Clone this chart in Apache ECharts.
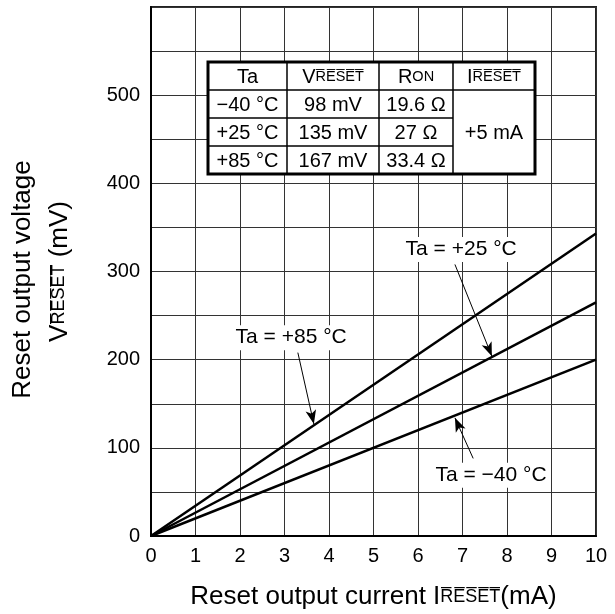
<!DOCTYPE html>
<html><head><meta charset="utf-8">
<script src="https://cdn.jsdelivr.net/npm/echarts@6/dist/echarts.min.js"></script>
<style>html,body{margin:0;padding:0;background:#fff}#c{width:615px;height:614px}</style>
</head><body><div id="c"></div>
<script>
var OL = function (s) { return s.split('').map(function (ch) { return ch + '\u0305'; }).join(''); };
var xTicks = [0, 1, 2, 3, 4, 5, 6, 7, 8, 9, 10];
var yTicks = [0, 100, 200, 300, 400, 500];
var currentMA = [0, 10];
var v85 = [0, 343];
var v25 = [0, 265];
var vm40 = [0, 200];
var tableTa = ['\u221240 \u00B0C', '+25 \u00B0C', '+85 \u00B0C'];
var tableV = ['98 mV', '135 mV', '167 mV'];
var tableR = ['19.6 \u03A9', '27 \u03A9', '33.4 \u03A9'];
var tableI = '+5 mA';
var annLabels = ['Ta = +25 \u00B0C', 'Ta = +85 \u00B0C', 'Ta = \u221240 \u00B0C'];
var annText = [[6.97, 325], [3.15, 225], [7.64, 69]];
var annArrow = [[[6.83, 308], [7.66, 204]], [[3.30, 208], [3.66, 127]], [[7.24, 88], [6.83, 134]]];

var FONT = 'Liberation Sans, Arial, sans-serif';
function pts(ys) { return currentMA.map(function (x, i) { return [x, ys[i]]; }); }

var chart = echarts.init(document.getElementById('c'));

var markPts = annLabels.map(function (t, i) {
  return { coord: annText[i], value: t };
});
var markLines = annArrow.map(function (a) {
  return [{ coord: a[0], symbol: 'none' }, { coord: a[1], symbol: 'arrow' }];
});

// table graphic
var tx = [208, 287, 379, 453, 535];
var ty = [62, 90, 118, 146, 174];
var g = [];
g.push({ type: 'rect', shape: { x: tx[0], y: ty[0], width: tx[4] - tx[0], height: ty[4] - ty[0] }, style: { fill: '#fff', stroke: '#000', lineWidth: 3 }, z: 100 });
for (var i = 1; i < 4; i++) {
  g.push({ type: 'line', shape: { x1: tx[i], y1: ty[0], x2: tx[i], y2: ty[4] }, style: { stroke: '#000', lineWidth: 1.5 }, z: 101 });
}
g.push({ type: 'line', shape: { x1: tx[0], y1: ty[1], x2: tx[4], y2: ty[1] }, style: { stroke: '#000', lineWidth: 1.5 }, z: 101 });
for (var r = 2; r < 4; r++) {
  g.push({ type: 'line', shape: { x1: tx[0], y1: ty[r], x2: tx[3], y2: ty[r] }, style: { stroke: '#000', lineWidth: 1.5 }, z: 101 });
}
function cellText(txt, cx, cy, rich) {
  var st = { text: txt, align: 'center', verticalAlign: 'middle', font: '20px ' + FONT, fill: '#000' };
  if (rich) st.rich = rich;
  return { type: 'text', x: cx, y: cy, z: 102, style: st };
}
var hdrRich = {
  b: { fontSize: 20, fontFamily: FONT, color: '#000' },
  s: { fontSize: 14.5, fontFamily: FONT, color: '#000' }
};
var hdrs = ['Ta', '{b|V}{s|' + OL('RESET') + '}', '{b|R}{s|ON}', '{b|I}{s|' + OL('RESET') + '}'];
for (var c = 0; c < 4; c++) {
  g.push(cellText(hdrs[c], (tx[c] + tx[c + 1]) / 2, (ty[0] + ty[1]) / 2 + 1, c > 0 ? hdrRich : null));
}
for (var r2 = 0; r2 < 3; r2++) {
  var cy = (ty[r2 + 1] + ty[r2 + 2]) / 2 + 1;
  g.push(cellText(tableTa[r2], (tx[0] + tx[1]) / 2, cy));
  g.push(cellText(tableV[r2], (tx[1] + tx[2]) / 2, cy));
  g.push(cellText(tableR[r2], (tx[2] + tx[3]) / 2, cy));
}
g.push(cellText(tableI, (tx[3] + tx[4]) / 2, (ty[1] + ty[4]) / 2 + 1));

chart.setOption({
  animation: false,
  backgroundColor: '#fff',
  textStyle: { fontFamily: FONT },
  grid: { left: 151, right: 19, top: 7, bottom: 78, outerBoundsMode: 'none', containLabel: false, show: true, borderColor: '#222', borderWidth: 2, backgroundColor: 'transparent' },
  xAxis: {
    type: 'value', min: 0, max: 10, interval: 1,
    axisLine: { show: true, lineStyle: { color: '#000', width: 2 } },
    axisTick: { show: false },
    splitLine: { show: true, lineStyle: { color: '#333', width: 1 } },
    axisLabel: { color: '#000', fontSize: 20, margin: 10, fontFamily: FONT,
      formatter: function (v) { return xTicks.indexOf(v) >= 0 ? String(v) : ''; } },
    name: '{n|Reset output current I}{s|' + OL('RESET') + '}{n|(mA)}',
    nameLocation: 'middle', nameGap: 48,
    nameTextStyle: { rich: { n: { fontSize: 26, fontFamily: FONT, color: '#000' }, s: { fontSize: 18, fontFamily: FONT, color: '#000' } } }
  },
  yAxis: {
    type: 'value', min: 0, max: 600, interval: 50,
    axisLine: { show: true, lineStyle: { color: '#000', width: 2 } },
    axisTick: { show: false },
    splitLine: { show: true, lineStyle: { color: '#333', width: 1 } },
    axisLabel: { color: '#000', fontSize: 20, margin: 11, fontFamily: FONT,
      formatter: function (v) { return yTicks.indexOf(v) >= 0 ? String(v) : ''; } },
    name: '{m|Reset output voltage}\n{n|V}{s|' + OL('RESET') + '}{n| (mV)}',
    nameLocation: 'middle', nameRotate: 90, nameGap: 73,
    nameTextStyle: { lineHeight: 37, rich: {
      m: { fontSize: 26, lineHeight: 37, fontFamily: FONT, color: '#000', padding: [0, 16, 0, 0] },
      n: { fontSize: 26, lineHeight: 37, fontFamily: FONT, color: '#000' },
      s: { fontSize: 18, lineHeight: 37, fontFamily: FONT, color: '#000' } } }
  },
  series: [
    { type: 'line', data: pts(v85), symbol: 'none', lineStyle: { color: '#000', width: 2.5 }, z: 5 },
    { type: 'line', data: pts(v25), symbol: 'none', lineStyle: { color: '#000', width: 2.5 }, z: 5 },
    { type: 'line', data: pts(vm40), symbol: 'none', lineStyle: { color: '#000', width: 2.5 }, z: 5,
      markLine: { silent: true, symbolSize: [8, 14], lineStyle: { color: '#000', width: 1, type: 'solid' }, label: { show: false }, data: markLines },
      markPoint: { silent: true, symbol: 'rect', symbolSize: 0, data: markPts,
        label: { show: true, position: 'inside', formatter: '{c}', color: '#000', fontSize: 21, fontFamily: FONT, backgroundColor: '#fff', padding: [2, 3] } }
    }
  ],
  graphic: g
});
</script></body></html>
